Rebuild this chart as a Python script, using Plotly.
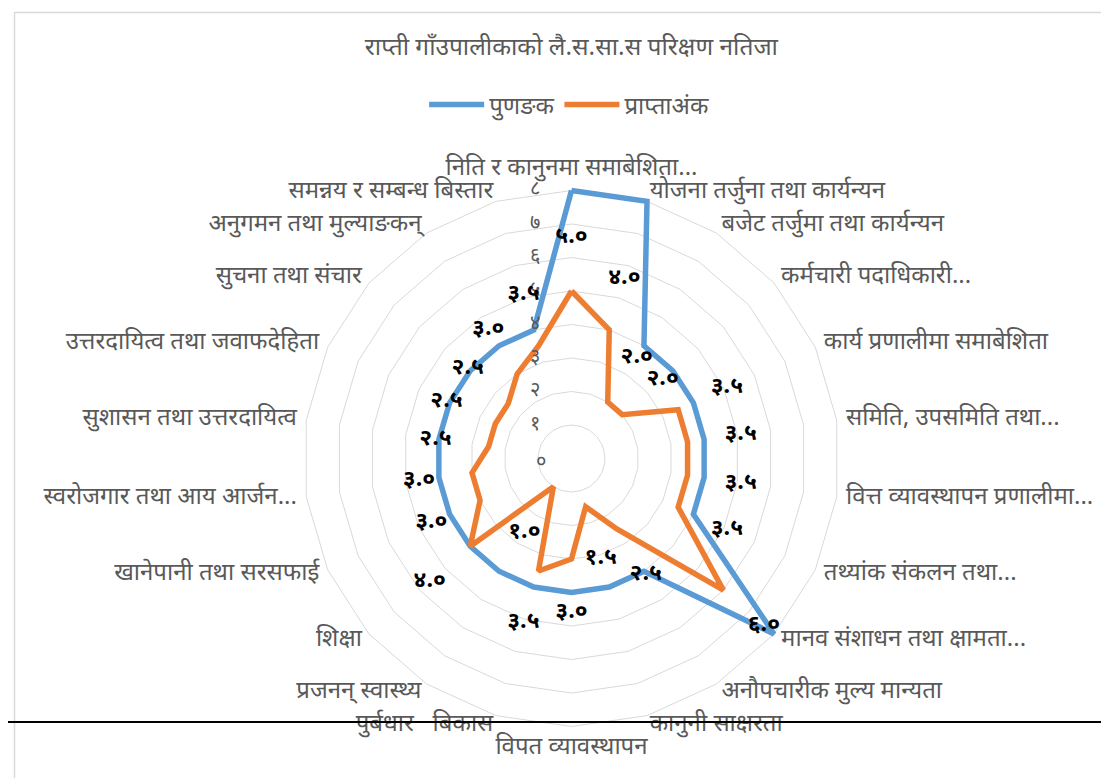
import plotly.graph_objects as go

categories = [
    "निति र कानुनमा समाबेशिता...",
    "योजना तर्जुना तथा कार्यन्यन",
    "बजेट तर्जुमा तथा कार्यन्यन",
    "कर्मचारी पदाधिकारी...",
    "कार्य प्रणालीमा समाबेशिता",
    "समिति, उपसमिति तथा...",
    "वित्त व्यावस्थापन प्रणालीमा...",
    "तथ्यांक संकलन तथा...",
    "मानव संशाधन तथा क्षामता...",
    "अनौपचारीक मुल्य मान्यता",
    "कानुनी साक्षरता",
    "विपत व्यावस्थापन",
    "पुर्बधार   बिकास",
    "प्रजनन् स्वास्थ्य",
    "शिक्षा",
    "खानेपानी तथा सरसफाई",
    "स्वरोजगार तथा आय आर्जन...",
    "सुशासन तथा उत्तरदायित्व",
    "उत्तरदायित्व तथा जवाफदेहिता",
    "सुचना तथा संचार",
    "अनुगमन तथा मुल्याङकन्",
    "समन्नय र सम्बन्ध बिस्तार",
]

full_marks = [8, 8, 4, 4, 4, 4, 4, 4, 8, 4, 4, 4, 4, 4, 4, 4, 4, 4, 4, 4, 4, 4]
obtained = [5, 4, 2, 2, 3.5, 3.5, 3.5, 3.5, 6, 2.5, 1.5, 3, 3.5, 1, 4, 3, 3, 2.5, 2.5, 2.5, 3, 3.5]

radial_ticks = [0, 1, 2, 3, 4, 5, 6, 7, 8]

title_text = "राप्ती गाँउपालीकाको लै.स.सा.स परिक्षण नतिजा"
series_names = ["पुणङक", "प्राप्ताअंक"]

DEV = str.maketrans("0123456789", "०१२३४५६७८९")


def dev(s):
    return str(s).translate(DEV)


FONT = "Noto Sans Devanagari, Mangal, Nirmala UI, Lohit Devanagari, FreeSans, sans-serif"
GRAY = "#595959"
GRID = "#d9d9d9"
NB = "\u00a0"

rmax = radial_ticks[-1]
r_outer = rmax * 1.1          # room outside the last ring for the category labels
n = len(categories)

cats_closed = categories + [categories[0]]

fig = go.Figure()
fig.add_trace(go.Scatterpolar(
    r=full_marks + [full_marks[0]], theta=cats_closed, mode="lines",
    name=series_names[0], line=dict(color="#5B9BD5", width=5.5),
    hoverinfo="skip",
))
fig.add_trace(go.Scatterpolar(
    r=obtained + [obtained[0]], theta=cats_closed, mode="lines",
    name=series_names[1], line=dict(color="#ED7D31", width=5.5),
    hoverinfo="skip",
))
# radial axis value labels, drawn along the first category's spoke
fig.add_trace(go.Scatterpolar(
    r=radial_ticks[1:], theta=[categories[0]] * (len(radial_ticks) - 1), mode="text",
    text=[dev(t) + NB * 6 for t in radial_ticks[1:]], textposition="middle left",
    textfont=dict(color=GRAY, size=20, family=FONT), cliponaxis=False,
    showlegend=False, hoverinfo="skip",
))
# data labels for the obtained-marks series
label_offset = 1.6
fig.add_trace(go.Scatterpolar(
    r=[v + label_offset for v in obtained], theta=categories, mode="text",
    text=["<b>" + dev(f"{v:.1f}") + "</b>" for v in obtained],
    textfont=dict(color="black", size=23, family=FONT), cliponaxis=False,
    showlegend=False, hoverinfo="skip",
))


# category labels placed just outside the outer ring
def cat_pos(i):
    a = 360.0 * i / n
    if a == 0:
        return "top center"
    if a == 180:
        return "bottom center"
    return "middle right" if a < 180 else "middle left"


fig.add_trace(go.Scatterpolar(
    r=[rmax * 1.035] * n, theta=categories, mode="text",
    text=categories, textposition=[cat_pos(i) for i in range(n)],
    textfont=dict(color=GRAY, size=24, family=FONT), cliponaxis=False,
    showlegend=False, hoverinfo="skip",
))

W, H = 1109, 778
cx, cy, R8 = 563.5, 450.5, 268
R = R8 * r_outer / rmax
fig.update_layout(
    width=W, height=H,
    paper_bgcolor="white", plot_bgcolor="white",
    margin=dict(l=0, r=0, t=0, b=0),
    font=dict(family=FONT, color=GRAY, size=22),
    title=dict(text=title_text, x=0.508, xanchor="center", y=1 - 38 / H, yanchor="middle",
               font=dict(size=24.5, color=GRAY, family=FONT)),
    legend=dict(orientation="h", x=0.506, xanchor="center", y=1 - 97 / H, yanchor="middle",
                font=dict(size=24, color=GRAY, family=FONT), itemwidth=55,
                bgcolor="rgba(0,0,0,0)"),
    polar=dict(
        domain=dict(x=[(cx - R) / W, (cx + R) / W], y=[(H - cy - R) / H, (H - cy + R) / H]),
        bgcolor="rgba(0,0,0,0)",
        gridshape="linear",
        radialaxis=dict(
            range=[0, r_outer], tickvals=radial_ticks, showticklabels=False,
            angle=90, showline=False, ticks="", gridcolor=GRID, gridwidth=1.3,
        ),
        angularaxis=dict(
            direction="clockwise", rotation=90, showticklabels=False,
            showgrid=False, showline=False, ticks="",
        ),
    ),
    # the centre value label (0) sits at the pole, left of the vertical spoke
    annotations=[dict(
        text=dev(radial_ticks[0]), xref="paper", yref="paper",
        x=(cx - 24) / W, y=1 - (cy + 4) / H, xanchor="right", yanchor="middle",
        showarrow=False, font=dict(color=GRAY, size=20, family=FONT),
    )],
    shapes=[
        dict(type="rect", xref="paper", yref="paper",
             x0=6.5 / W, x1=1 - 6.5 / W, y0=1.5 / H, y1=1 - 4.5 / H,
             line=dict(color=GRID, width=1.5), fillcolor="rgba(0,0,0,0)", layer="below"),
        dict(type="line", xref="paper", yref="paper",
             x0=0, x1=1, y0=1 - 714 / H, y1=1 - 714 / H,
             line=dict(color="black", width=2), layer="above"),
    ],
)

fig.write_html("out.html")
